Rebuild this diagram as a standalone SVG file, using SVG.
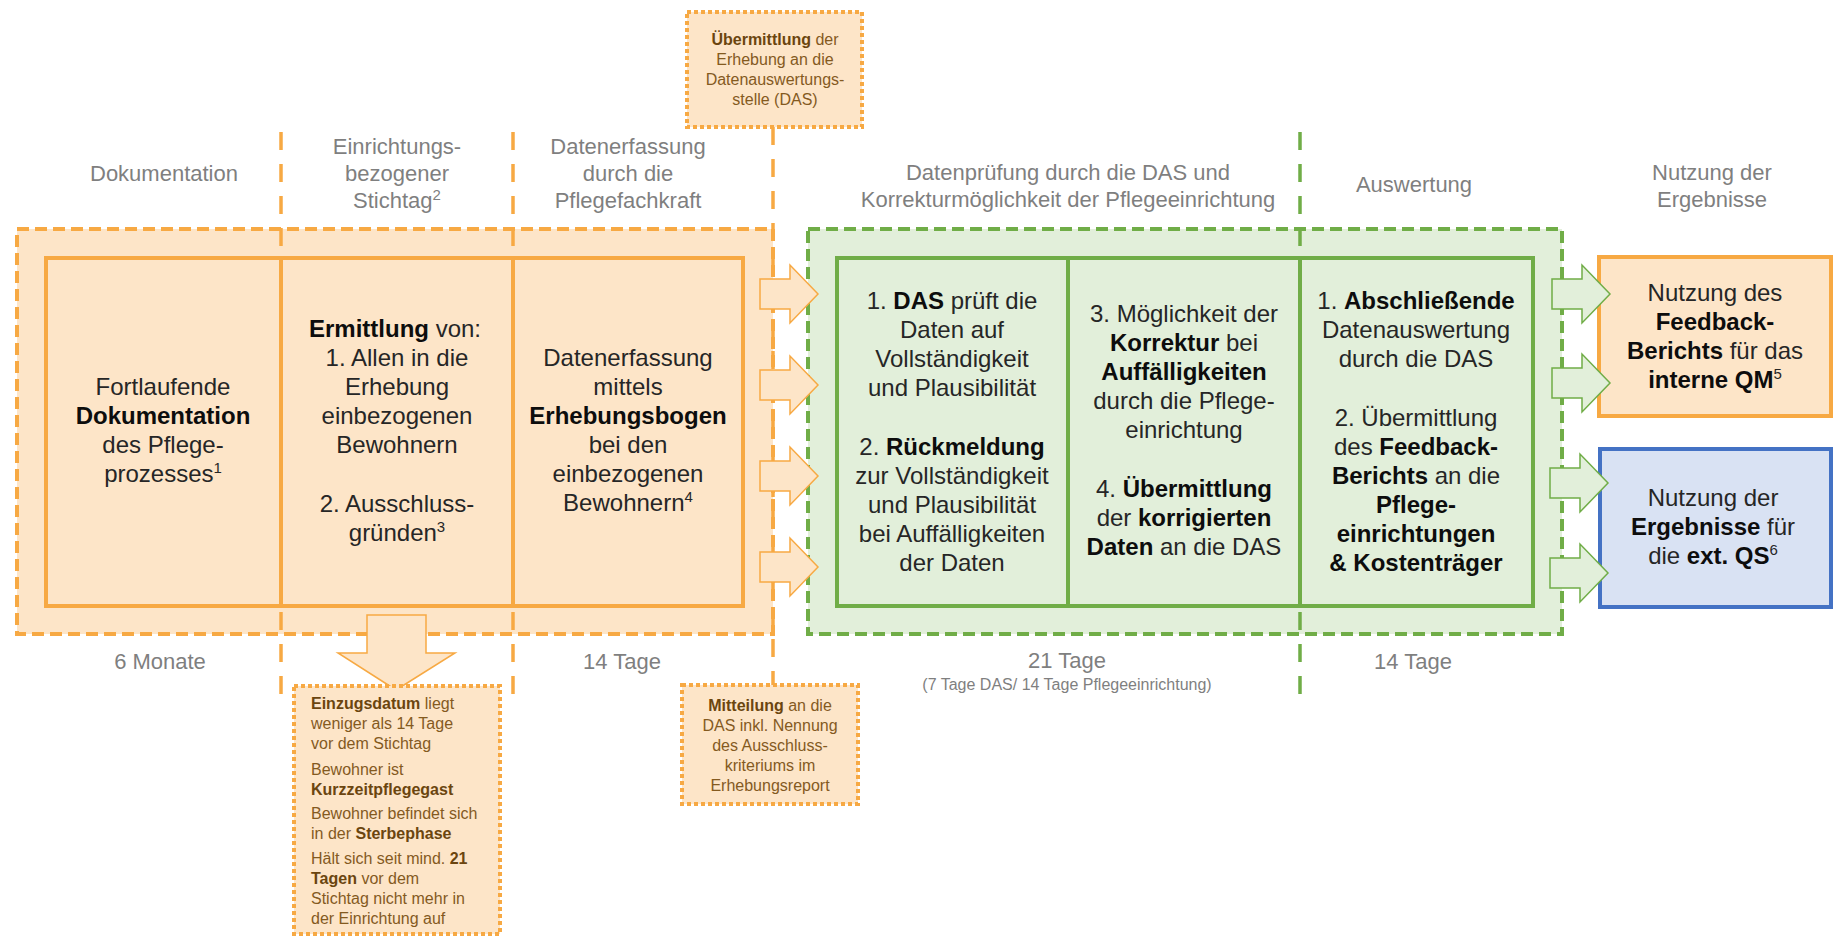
<svg xmlns="http://www.w3.org/2000/svg" xmlns:xlink="http://www.w3.org/1999/xlink" width="1834" height="937" viewBox="0 0 1834 937">
<style>
text{font-family:"Liberation Sans",Arial,sans-serif}
.hdr{font-size:22px;fill:#7f7f7f;text-anchor:middle}
.sm{font-size:16px;fill:#7f7f7f;text-anchor:middle}
.t{font-size:24px;fill:#262626;text-anchor:middle}
.b{font-weight:bold;fill:#0d0d0d}
.n{font-size:16px;fill:#845a1f}
.nb{font-weight:bold;fill:#6b450f}
.sup{font-size:15px}
.ofill{fill:#fde5c8}
.gfill{fill:#e2efda}
.odash{fill:none;stroke:#f7a943;stroke-width:4;stroke-dasharray:12 6}
.gdash{fill:none;stroke:#70ad47;stroke-width:4;stroke-dasharray:12 6}
.ovl{stroke:#f7a943;stroke-width:3.5;stroke-dasharray:18 14;fill:none}
.gvl{stroke:#70ad47;stroke-width:3.5;stroke-dasharray:18 14;fill:none}
.obox{fill:#fde5c8;stroke:#f7a943;stroke-width:4}
.gbox{fill:#e2efda;stroke:#70ad47;stroke-width:4}
.bbox{fill:#d9e2f3;stroke:#4472c4;stroke-width:4}
.odiv{stroke:#f7a943;stroke-width:4}
.gdiv{stroke:#70ad47;stroke-width:4}
.dot{fill:#fde5c8;stroke:#f7a943;stroke-width:4;stroke-dasharray:4 3}
.oarr{fill:#fde5c8;stroke:#f7a943;stroke-width:1.5}
.garr{fill:#e2efda;stroke:#70ad47;stroke-width:1.5}
</style>
<defs>
<path id="arr" d="M0,-15 H30 V-29 L58,0 L30,29 V15 H0 Z"/>
</defs>

<!-- background fills of phase areas -->
<rect class="ofill" x="17" y="229" width="756" height="405"/>
<rect class="gfill" x="808" y="229" width="754" height="405"/>

<!-- timeline separators -->
<g id="separators">
<line class="ovl" x1="281" y1="132" x2="281" y2="702"/>
<line class="ovl" x1="513" y1="132" x2="513" y2="702"/>
<line class="ovl" x1="773" y1="127" x2="773" y2="685"/>
<line class="gvl" x1="1300" y1="132" x2="1300" y2="702"/>
</g>

<!-- headers -->
<g id="headers">
<text class="hdr" x="164" y="181">Dokumentation</text>
<text class="hdr" x="397" y="154">Einrichtungs-</text>
<text class="hdr" x="397" y="181">bezogener</text>
<text class="hdr" x="397" y="208">Stichtag<tspan class="sup" dy="-8">2</tspan></text>
<text class="hdr" x="628" y="154">Datenerfassung</text>
<text class="hdr" x="628" y="181">durch die</text>
<text class="hdr" x="628" y="208">Pflegefachkraft</text>
<text class="hdr" x="1068" y="180">Datenprüfung durch die DAS und</text>
<text class="hdr" x="1068" y="207">Korrekturmöglichkeit der Pflegeeinrichtung</text>
<text class="hdr" x="1414" y="192">Auswertung</text>
<text class="hdr" x="1712" y="180">Nutzung der</text>
<text class="hdr" x="1712" y="207">Ergebnisse</text>
<text class="hdr" x="160" y="669">6 Monate</text>
<text class="hdr" x="622" y="669">14 Tage</text>
<text class="hdr" x="1067" y="668">21 Tage</text>
<text class="sm" x="1067" y="690">(7 Tage DAS/ 14 Tage Pflegeeinrichtung)</text>
<text class="hdr" x="1413" y="669">14 Tage</text>
</g>

<!-- orange phase -->
<g id="phase-orange">
<rect class="obox" x="46" y="258" width="697" height="348"/>
<line class="odiv" x1="281" y1="258" x2="281" y2="606"/>
<line class="odiv" x1="513" y1="258" x2="513" y2="606"/>
<rect class="odash" x="17" y="229" width="756" height="405"/>
</g>

<g id="node-dokumentation">
<text class="t" x="163" y="395">Fortlaufende</text>
<text class="t" x="163" y="424"><tspan class="b">Dokumentation</tspan></text>
<text class="t" x="163" y="453">des Pflege-</text>
<text class="t" x="163" y="482">prozesses<tspan class="sup" dy="-9">1</tspan></text>
</g>

<g id="node-stichtag">
<text class="t" x="395" y="337"><tspan class="b">Ermittlung</tspan> von:</text>
<text class="t" x="397" y="366">1. Allen in die</text>
<text class="t" x="397" y="395">Erhebung</text>
<text class="t" x="397" y="424">einbezogenen</text>
<text class="t" x="397" y="453">Bewohnern</text>
<text class="t" x="397" y="512">2. Ausschluss-</text>
<text class="t" x="397" y="541">gründen<tspan class="sup" dy="-9">3</tspan></text>
</g>

<g id="node-datenerfassung">
<text class="t" x="628" y="366">Datenerfassung</text>
<text class="t" x="628" y="395">mittels</text>
<text class="t" x="628" y="424"><tspan class="b">Erhebungsbogen</tspan></text>
<text class="t" x="628" y="453">bei den</text>
<text class="t" x="628" y="482">einbezogenen</text>
<text class="t" x="628" y="511">Bewohnern<tspan class="sup" dy="-9">4</tspan></text>
</g>

<!-- green phase -->
<g id="phase-green">
<rect class="gbox" x="837" y="258" width="696" height="348"/>
<line class="gdiv" x1="1068" y1="258" x2="1068" y2="606"/>
<line class="gdiv" x1="1300" y1="258" x2="1300" y2="606"/>
<rect class="gdash" x="808" y="229" width="754" height="405"/>
</g>

<g id="node-pruefung">
<text class="t" x="952" y="309">1. <tspan class="b">DAS</tspan> prüft die</text>
<text class="t" x="952" y="338">Daten auf</text>
<text class="t" x="952" y="367">Vollständigkeit</text>
<text class="t" x="952" y="396">und Plausibilität</text>
<text class="t" x="952" y="455">2. <tspan class="b">Rückmeldung</tspan></text>
<text class="t" x="952" y="484">zur Vollständigkeit</text>
<text class="t" x="952" y="513">und Plausibilität</text>
<text class="t" x="952" y="542">bei Auffälligkeiten</text>
<text class="t" x="952" y="571">der Daten</text>
</g>

<g id="node-korrektur">
<text class="t" x="1184" y="322">3. Möglichkeit der</text>
<text class="t" x="1184" y="351"><tspan class="b">Korrektur</tspan> bei</text>
<text class="t" x="1184" y="380"><tspan class="b">Auffälligkeiten</tspan></text>
<text class="t" x="1184" y="409">durch die Pflege-</text>
<text class="t" x="1184" y="438">einrichtung</text>
<text class="t" x="1184" y="497">4. <tspan class="b">Übermittlung</tspan></text>
<text class="t" x="1184" y="526">der <tspan class="b">korrigierten</tspan></text>
<text class="t" x="1184" y="555"><tspan class="b">Daten</tspan> an die DAS</text>
</g>

<g id="node-auswertung">
<text class="t" x="1416" y="309">1. <tspan class="b">Abschließende</tspan></text>
<text class="t" x="1416" y="338">Datenauswertung</text>
<text class="t" x="1416" y="367">durch die DAS</text>
<text class="t" x="1416" y="426">2. Übermittlung</text>
<text class="t" x="1416" y="455">des <tspan class="b">Feedback-</tspan></text>
<text class="t" x="1416" y="484"><tspan class="b">Berichts</tspan> an die</text>
<text class="t" x="1416" y="513"><tspan class="b">Pflege-</tspan></text>
<text class="t" x="1416" y="542"><tspan class="b">einrichtungen</tspan></text>
<text class="t" x="1416" y="571"><tspan class="b">&amp; Kostenträger</tspan></text>
</g>

<!-- results -->
<g id="node-internes-qm">
<rect class="obox" x="1599" y="257" width="232" height="159"/>
<text class="t" x="1715" y="301">Nutzung  des</text>
<text class="t" x="1715" y="330"><tspan class="b">Feedback-</tspan></text>
<text class="t" x="1715" y="359"><tspan class="b">Berichts</tspan> für das</text>
<text class="t" x="1715" y="388"><tspan class="b">interne QM</tspan><tspan class="sup" dy="-9">5</tspan></text>
</g>

<g id="node-ext-qs">
<rect class="bbox" x="1600" y="449" width="231" height="158"/>
<text class="t" x="1713" y="506">Nutzung  der</text>
<text class="t" x="1713" y="535"><tspan class="b">Ergebnisse</tspan> für</text>
<text class="t" x="1713" y="564">die <tspan class="b">ext. QS</tspan><tspan class="sup" dy="-9">6</tspan></text>
</g>

<!-- connectors -->
<g id="connectors">
<use href="#arr" class="oarr" x="760" y="294"/>
<use href="#arr" class="oarr" x="760" y="385"/>
<use href="#arr" class="oarr" x="760" y="476"/>
<use href="#arr" class="oarr" x="760" y="567"/>
<use href="#arr" class="garr" x="1552" y="294"/>
<use href="#arr" class="garr" x="1552" y="383"/>
<use href="#arr" class="garr" x="1550" y="483"/>
<use href="#arr" class="garr" x="1550" y="573"/>
<path class="oarr" d="M367,615 H426 V653 H455 L396,690 L338,653 H367 Z"/>
</g>

<!-- notes -->
<g id="node-uebermittlung">
<rect class="dot" x="687" y="12" width="175" height="115"/>
<text class="n" x="775" y="45" text-anchor="middle"><tspan class="nb">Übermittlung</tspan> der</text>
<text class="n" x="775" y="65" text-anchor="middle">Erhebung an die</text>
<text class="n" x="775" y="85" text-anchor="middle">Datenauswertungs-</text>
<text class="n" x="775" y="105" text-anchor="middle">stelle (DAS)</text>
</g>

<g id="node-mitteilung">
<rect class="dot" x="682" y="685" width="176" height="119"/>
<text class="n" x="770" y="711" text-anchor="middle"><tspan class="nb">Mitteilung</tspan> an die</text>
<text class="n" x="770" y="731" text-anchor="middle">DAS inkl. Nennung</text>
<text class="n" x="770" y="751" text-anchor="middle">des Ausschluss-</text>
<text class="n" x="770" y="771" text-anchor="middle">kriteriums im</text>
<text class="n" x="770" y="791" text-anchor="middle">Erhebungsreport</text>
</g>

<g id="node-ausschluss">
<rect class="dot" x="294" y="686" width="206" height="248"/>
<text class="n" x="311" y="709"><tspan class="nb">Einzugsdatum</tspan> liegt</text>
<text class="n" x="311" y="729">weniger als 14 Tage</text>
<text class="n" x="311" y="749">vor dem Stichtag</text>
<text class="n" x="311" y="775">Bewohner ist</text>
<text class="n" x="311" y="795"><tspan class="nb">Kurzzeitpflegegast</tspan></text>
<text class="n" x="311" y="819">Bewohner befindet sich</text>
<text class="n" x="311" y="839">in der <tspan class="nb">Sterbephase</tspan></text>
<text class="n" x="311" y="864">Hält sich seit mind. <tspan class="nb">21</tspan></text>
<text class="n" x="311" y="884"><tspan class="nb">Tagen</tspan> vor dem</text>
<text class="n" x="311" y="904">Stichtag nicht mehr in</text>
<text class="n" x="311" y="924">der Einrichtung auf</text>
</g>
</svg>
